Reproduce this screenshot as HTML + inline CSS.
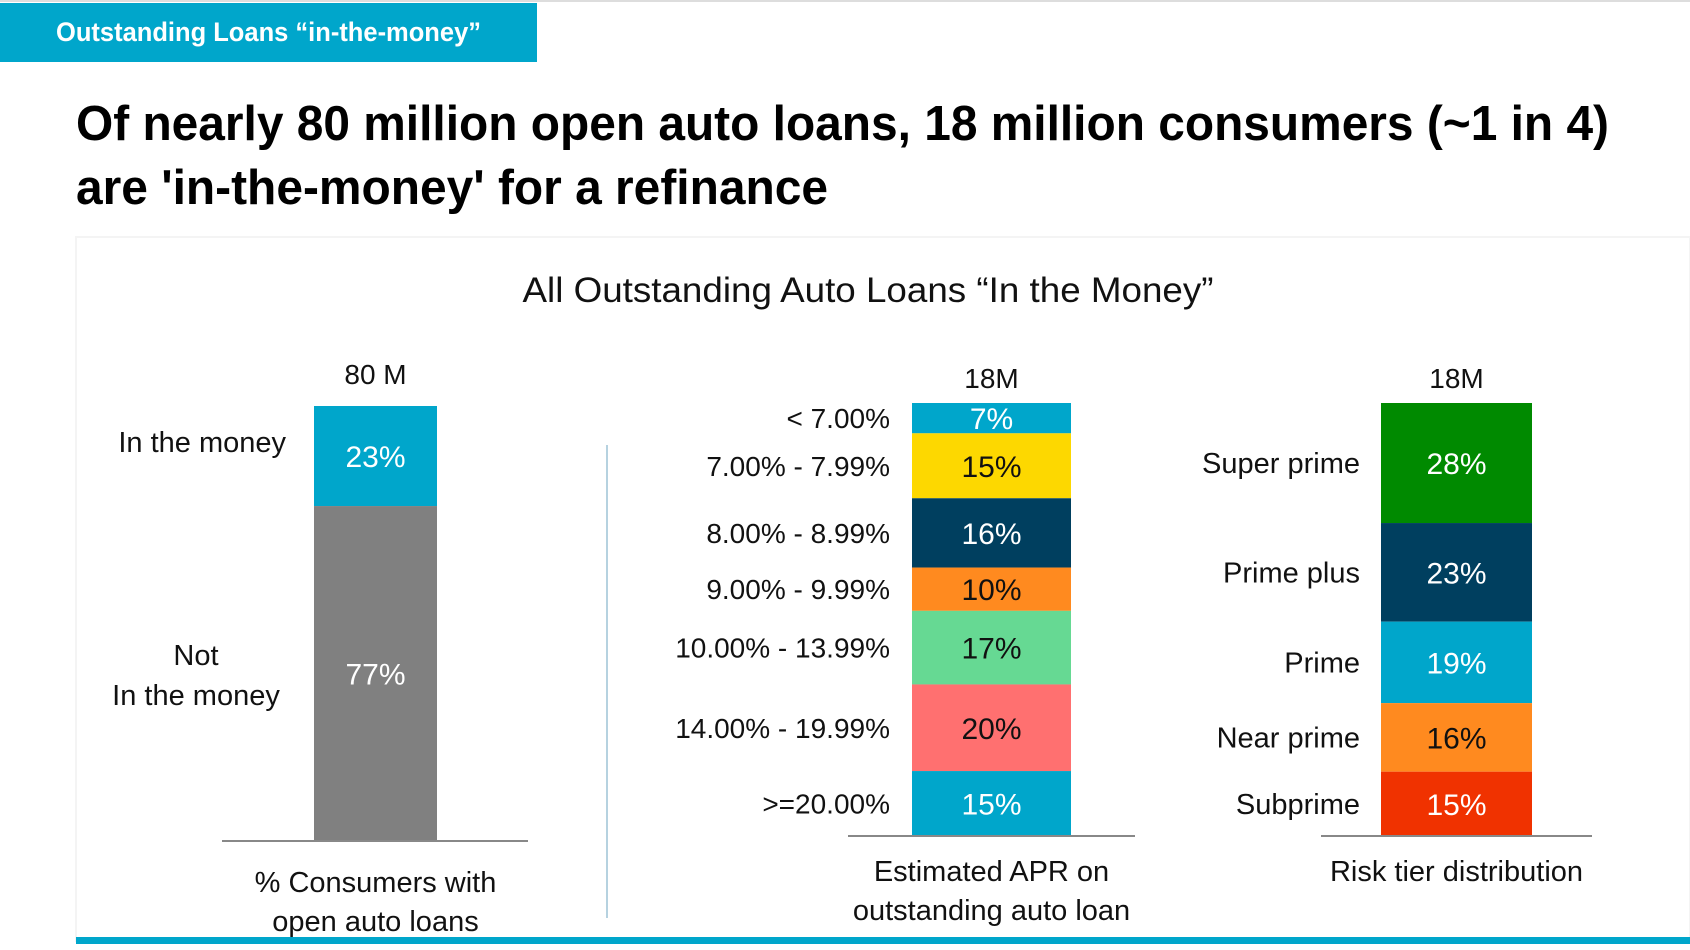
<!DOCTYPE html>
<html><head><meta charset="utf-8">
<style>
html,body{margin:0;padding:0;background:#fff;width:1690px;height:950px;overflow:hidden}
svg{display:block;font-family:"Liberation Sans",Arial,sans-serif}
</style></head>
<body>
<svg id="chart" width="1690" height="950" viewBox="0 0 1690 950" xmlns="http://www.w3.org/2000/svg">
  <line x1="0" y1="1" x2="1690" y2="1" stroke="#ddd" stroke-width="2"/>
  <rect x="0" y="3" width="537" height="59" fill="#00A6CB"/>
  <text x="56" y="41" fill="#fff" font-size="27" font-weight="bold" textLength="425" lengthAdjust="spacingAndGlyphs">Outstanding Loans “in-the-money”</text>
  <text x="76" y="140" fill="#000" font-size="49" font-weight="bold" textLength="1533" lengthAdjust="spacingAndGlyphs">Of nearly 80 million open auto loans, 18 million consumers (~1 in 4)</text>
  <text x="76" y="204" fill="#000" font-size="49" font-weight="bold" textLength="752" lengthAdjust="spacingAndGlyphs">are 'in-the-money' for a refinance</text>
  <rect x="76" y="237" width="1614" height="704" fill="#fff" stroke="#f4f4f4" stroke-width="2"/>
  <text x="868" y="302" text-anchor="middle" font-size="35" fill="#111" textLength="691" lengthAdjust="spacingAndGlyphs">All Outstanding Auto Loans “In the Money”</text>
  <rect x="76" y="937" width="1614" height="7" fill="#00A6CB"/>
  <line x1="607" y1="445" x2="607" y2="918" stroke="#9ec3d6" stroke-width="1.5"/>
  <g id="marks"></g>
</svg>
<script>
const consumerCats = ["In the money", "Not\nIn the money"];
const consumerVals = [23, 77];
const aprCats = ["< 7.00%", "7.00% - 7.99%", "8.00% - 8.99%", "9.00% - 9.99%", "10.00% - 13.99%", "14.00% - 19.99%", ">=20.00%"];
const aprVals = [7, 15, 16, 10, 17, 20, 15];
const riskCats = ["Super prime", "Prime plus", "Prime", "Near prime", "Subprime"];
const riskVals = [28, 23, 19, 16, 15];
const totals = ["80 M", "18M", "18M"];

const NS = "http://www.w3.org/2000/svg";
const g = document.getElementById("marks");
function el(tag, attrs, txt) {
  const e = document.createElementNS(NS, tag);
  for (const k in attrs) e.setAttribute(k, attrs[k]);
  if (txt !== undefined) e.textContent = txt;
  g.appendChild(e);
  return e;
}
function stack(cfg) {
  const sum = cfg.vals.reduce((a, b) => a + b, 0);
  const y = v => cfg.top + (cfg.bottom - cfg.top) * v / sum;
  let acc = 0;
  cfg.vals.forEach((v, i) => {
    const y0 = y(acc), y1 = y(acc + v);
    const r = el("rect", {x: cfg.x, y: y0, width: cfg.w, height: y1 - y0, fill: cfg.colors[i]});
    
    
    const cy = (y0 + y1) / 2;
    const t = el("text", {x: cfg.x + cfg.w / 2, y: cy + 11, "text-anchor": "middle", "font-size": 30, fill: cfg.textColors[i]}, v + "%");
    
    
    const lines = cfg.cats[i].split("\n");
    lines.forEach((ln, j) => {
      const ly = (cfg.labelY ? cfg.labelY(i, cy) : cy) + 10 + (j - (lines.length - 1) / 2) * 40;
      const lx = cfg.labelXf ? cfg.labelXf(i) : cfg.labelX;
      const an = cfg.anchorf ? cfg.anchorf(i) : (cfg.anchor || "end");
      const lt = el("text", {x: lx, y: ly, "text-anchor": an, "font-size": cfg.labelSize || 28, fill: "#111"}, ln);
      
      
    });
    acc += v;
  });
  const b = el("line", {x1: cfg.bx1, y1: cfg.bottom, x2: cfg.bx2, y2: cfg.bottom, stroke: "#888", "stroke-width": 2});
  
  
  const tt = el("text", {x: cfg.x + cfg.w / 2, y: cfg.top - (cfg.totalGap || 18), "text-anchor": "middle", "font-size": 28, fill: "#111"}, cfg.total);
  
  
  cfg.caption.forEach((c, j) => {
    const ct = el("text", {x: cfg.x + cfg.w / 2, y: cfg.capY + j * 39, "text-anchor": "middle", "font-size": 29, fill: "#111"}, c);
    
    
  });
}
stack({key: "consumers", vals: consumerVals, cats: consumerCats, x: 314, w: 123, top: 406, bottom: 841,
  colors: ["#00A6CB", "#808080"], textColors: ["#fff", "#fff"],
  labelXf: i => i === 0 ? 286 : 196, anchorf: i => i === 0 ? "end" : "middle", labelSize: 29,
  labelY: (i, cy) => i === 0 ? 442 : 675,
  bx1: 222, bx2: 528, total: totals[0], totalGap: 22, capY: 892, caption: ["% Consumers with", "open auto loans"]});
stack({key: "apr", vals: aprVals, cats: aprCats, x: 912, w: 159, top: 403, bottom: 836,
  colors: ["#00A6CB", "#FDD800", "#003F5F", "#FF8A1F", "#66D993", "#FF7070", "#00A6CB"],
  textColors: ["#fff", "#111", "#fff", "#111", "#111", "#111", "#fff"], labelX: 890,
  bx1: 848, bx2: 1135, total: totals[1], totalGap: 15, capY: 881, caption: ["Estimated APR on", "outstanding auto loan"]});
stack({key: "risk", vals: riskVals, cats: riskCats, x: 1381, w: 151, top: 403, bottom: 836,
  colors: ["#008A00", "#003F5F", "#00A6CB", "#FF8A1F", "#F03200"],
  textColors: ["#fff", "#fff", "#fff", "#111", "#fff"], labelX: 1360, labelSize: 29,
  bx1: 1321, bx2: 1592, total: totals[2], totalGap: 15, capY: 881, caption: ["Risk tier distribution"]});
</script>
</body></html>
